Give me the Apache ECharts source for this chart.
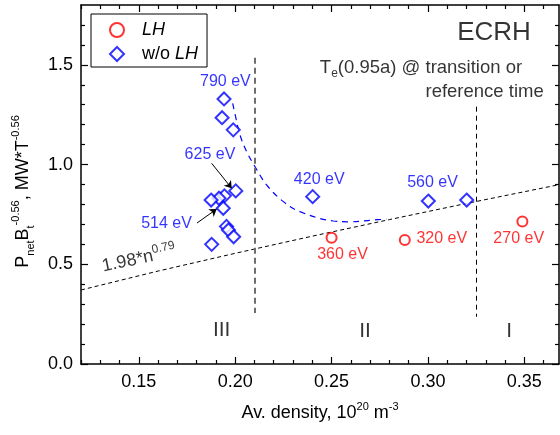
<!DOCTYPE html>
<html>
<head>
<meta charset="utf-8">
<script src="https://cdn.jsdelivr.net/npm/echarts@6/dist/echarts.min.js"></script>
<style>
  html, body { margin: 0; padding: 0; background: #fff; }
  #chart { width: 560px; height: 435px; }
</style>
</head>
<body>
<div id="chart"></div>
<script>
// --- data ---
const lhX = [0.250, 0.288, 0.349]
const lhY = [0.633, 0.622, 0.714]

const woX = [0.1942, 0.1932, 0.1990, 0.2003, 0.1944, 0.1916, 0.1875, 0.1938,
             0.1955, 0.1965, 0.1992, 0.1878, 0.2402, 0.3002, 0.3201]
const woY = [1.329, 1.235, 1.174, 0.868, 0.843, 0.831, 0.822, 0.781,
             0.690, 0.672, 0.638, 0.600, 0.839, 0.817, 0.822]

// scaling fit 1.98*n^0.79
const fitX = [0.12, 0.16, 0.20, 0.24, 0.28, 0.32, 0.368]
const fitY = [0.371, 0.466, 0.555, 0.641, 0.724, 0.805, 0.899]

// blue guide curve
const curveX = [0.1987, 0.2004, 0.2025, 0.2060, 0.2103, 0.2164, 0.2250, 0.2336, 0.2509, 0.2596, 0.2717, 0.2785]
const curveY = [1.307, 1.232, 1.148, 1.064, 0.989, 0.897, 0.814, 0.764, 0.717, 0.713, 0.722, 0.726]

// regime boundaries
const boundX = [0.21, 0.325]
const boundTop = [1.535, 1.29]
const boundBottom = [0.256, 0.237]

// axis ticks
const xMajor = [0.15, 0.20, 0.25, 0.30, 0.35]
const xMinor = [0.12, 0.13, 0.14, 0.16, 0.17, 0.18, 0.19, 0.21, 0.22, 0.23, 0.24,
                0.26, 0.27, 0.28, 0.29, 0.31, 0.32, 0.33, 0.34, 0.36]
const yMajor = [0.0, 0.5, 1.0, 1.5]
const yMinor = [0.1, 0.2, 0.3, 0.4, 0.6, 0.7, 0.8, 0.9, 1.1, 1.2, 1.3, 1.4, 1.6, 1.7]

// annotations
const blueNotes = ['790 eV', '625 eV', '514 eV', '420 eV', '560 eV']
const blueNoteX = [0.1949, 0.1869, 0.1644, 0.2436, 0.3024]
const blueNoteY = [1.416, 1.048, 0.706, 0.923, 0.909]
const redNotes = ['360 eV', '320 eV', '270 eV']
const redNoteX = [0.2557, 0.3072, 0.3471]
const redNoteY = [0.547, 0.630, 0.630]
const regions = ['III', 'II', 'I']
const regionX = [0.193, 0.2674, 0.3421]
const regionY = [0.171, 0.162, 0.165]

// arrows: [fromX, fromY, toX, toY]
const arrows = [
  [0.1878, 1.006, 0.1982, 0.881],
  [0.1802, 0.707, 0.1904, 0.777]
]

const FONT = '"Liberation Sans", Arial, sans-serif'
const X_MIN = 0.12, X_MAX = 0.368, Y_MIN = 0, Y_MAX = 1.8

const zip = (a, b) => a.map((v, i) => [v, b[i]])

const chart = echarts.init(document.getElementById('chart'))

function xAx(position, ticks, len, opts = {}) {
  return {
    type: 'value', position, min: X_MIN, max: X_MAX,
    axisLine: { show: opts.line !== false, onZero: false, lineStyle: { color: '#000', width: 1.5 } },
    axisTick: { show: true, inside: true, length: len, customValues: ticks, lineStyle: { color: '#000', width: 1.2 } },
    axisLabel: opts.label ? {
      show: true, customValues: ticks, color: '#000', fontSize: 18, fontFamily: FONT, margin: 9,
      formatter: v => v.toFixed(2)
    } : { show: false },
    splitLine: { show: false },
    ...(opts.extra || {})
  }
}

function yAx(position, ticks, len, opts = {}) {
  return {
    type: 'value', position, min: Y_MIN, max: Y_MAX,
    axisLine: { show: opts.line !== false, onZero: false, lineStyle: { color: '#000', width: 1.5 } },
    axisTick: { show: true, inside: true, length: len, customValues: ticks, lineStyle: { color: '#000', width: 1.2 } },
    axisLabel: opts.label ? {
      show: true, customValues: ticks, color: '#000', fontSize: 18, fontFamily: FONT, margin: 8,
      formatter: v => v.toFixed(1)
    } : { show: false },
    splitLine: { show: false },
    ...(opts.extra || {})
  }
}

function notes(texts, xs, ys, color, fontSize) {
  return texts.map((t, i) => ({
    value: [xs[i], ys[i]],
    label: { formatter: t, color, fontSize, fontFamily: FONT }
  }))
}

const supStyle = { fontSize: 11, lineHeight: 12, verticalAlign: 'top', fontFamily: FONT, color: '#000' }
const subStyle = { fontSize: 11, lineHeight: 12, verticalAlign: 'bottom', fontFamily: FONT, color: '#000' }

const textItems = [
  ...notes(blueNotes, blueNoteX, blueNoteY, '#0000ff', 16),
  ...notes(redNotes, redNoteX, redNoteY, '#ff0000', 16),
  ...notes(regions, regionX, regionY, '#000', 21),
  { value: [0.3343, 1.66], label: { formatter: 'ECRH', color: '#000', fontSize: 26, fontFamily: FONT } },
  { value: [0.2964, 1.487], label: {
      formatter: '{m|T}{s|e}{m|(0.95a) @ transition or}',
      rich: { m: { fontSize: 18.5, lineHeight: 24, fontFamily: FONT, color: '#000' }, s: { ...subStyle, fontSize: 12 } } } },
  { value: [0.3294, 1.364], label: { formatter: 'reference time', color: '#000', fontSize: 18.5, fontFamily: FONT } },
  { value: [0.1501, 0.527], label: {
      formatter: '{m|1.98*n}{p|0.79}', rotate: 12,
      rich: { m: { fontSize: 18, lineHeight: 24, fontFamily: FONT, color: '#000' }, p: { ...supStyle, fontSize: 12 } } } }
]

const boundStyles = [
  { color: '#6e6e6e', width: 2, type: [6, 4] },
  { color: '#000', width: 1, type: [5, 4] }
]

const markLines = [
  ...boundX.map((x, i) => [
    { coord: [x, boundTop[i]], lineStyle: boundStyles[i] },
    { coord: [x, boundBottom[i]], lineStyle: boundStyles[i] }
  ]),
  ...arrows.map(a => [
    { coord: [a[0], a[1]], symbol: 'none', lineStyle: { color: '#000', width: 1, type: 'solid' } },
    { coord: [a[2], a[3]], symbol: 'arrow', symbolSize: 7, lineStyle: { color: '#000', width: 1, type: 'solid' } }
  ])
]

const option = {
  animation: false,
  backgroundColor: '#fff',
  textStyle: { fontFamily: FONT },
  grid: { left: 81, right: 1, top: 5, bottom: 71, containLabel: false },
  legend: {
    data: ['LH', 'w/o LH'],
    orient: 'vertical',
    left: 91, top: 14,
    padding: [7, 9, 4, 18],
    itemWidth: 14, itemHeight: 14, itemGap: 6,
    borderColor: '#000', borderWidth: 1,
    selectedMode: false,
    formatter: name => name === 'LH' ? '{i|LH}' : '{n|w/o }{j|LH}',
    textStyle: {
      color: '#000', fontSize: 18, fontFamily: FONT,
      rich: {
        i: { fontStyle: 'italic', fontSize: 18, lineHeight: 20, fontFamily: FONT, padding: [0, 0, 0, 13] },
        n: { fontSize: 18, lineHeight: 20, fontFamily: FONT, padding: [0, 0, 0, 13] },
        j: { fontStyle: 'italic', fontSize: 18, lineHeight: 20, fontFamily: FONT }
      }
    }
  },
  xAxis: [
    xAx('bottom', xMajor, 7, { label: true, extra: {
      name: '{m|Av. density, 10}{p|20}{m| m}{p|-3}',
      nameLocation: 'middle', nameGap: 37,
      nameTextStyle: { rich: {
        m: { fontSize: 18, lineHeight: 24, fontFamily: FONT, color: '#000' },
        p: supStyle } }
    } }),
    xAx('bottom', xMinor, 4, { line: false }),
    xAx('top', xMajor, 7),
    xAx('top', xMinor, 4, { line: false })
  ],
  yAxis: [
    yAx('left', yMajor, 7, { label: true, extra: {
      name: '{m|P}{s|net}{m|B}{s|t}{p|-0.56}{m|, MW*T}{p|-0.56}',
      nameLocation: 'middle', nameGap: 45, nameRotate: 90,
      nameTextStyle: { padding: [0, 14, 0, 0], rich: {
        m: { fontSize: 18, lineHeight: 26, fontFamily: FONT, color: '#000' },
        s: subStyle, p: supStyle } }
    } }),
    yAx('left', yMinor, 4, { line: false }),
    yAx('right', yMajor, 7),
    yAx('right', yMinor, 4, { line: false })
  ],
  series: [
    {
      name: 'fit', type: 'line', data: zip(fitX, fitY),
      symbol: 'none', silent: true, z: 1,
      lineStyle: { color: '#000', width: 1, type: [4, 3] },
      markLine: {
        silent: true, symbol: ['none', 'none'], animation: false,
        label: { show: false },
        emphasis: { disabled: true },
        data: markLines
      }
    },
    {
      name: 'guide', type: 'line', data: zip(curveX, curveY),
      symbol: 'none', silent: true, smooth: 0.4, z: 1,
      lineStyle: { color: '#0000ff', width: 1.2, type: [6, 5] }
    },
    {
      name: 'LH', type: 'scatter', data: zip(lhX, lhY),
      symbol: 'emptyCircle', symbolSize: 10, z: 3,
      itemStyle: { color: '#ff0000', borderWidth: 2 }
    },
    {
      name: 'w/o LH', type: 'scatter', data: zip(woX, woY),
      symbol: 'emptyDiamond', symbolSize: 13, z: 3,
      itemStyle: { color: '#0000ff', borderWidth: 2 }
    },
    {
      name: 'text', type: 'scatter', data: textItems,
      symbolSize: 1, silent: true, z: 5,
      itemStyle: { color: 'rgba(0,0,0,0)' },
      label: { show: true, position: 'inside' }
    }
  ]
}

chart.setOption(option)
</script>
</body>
</html>
